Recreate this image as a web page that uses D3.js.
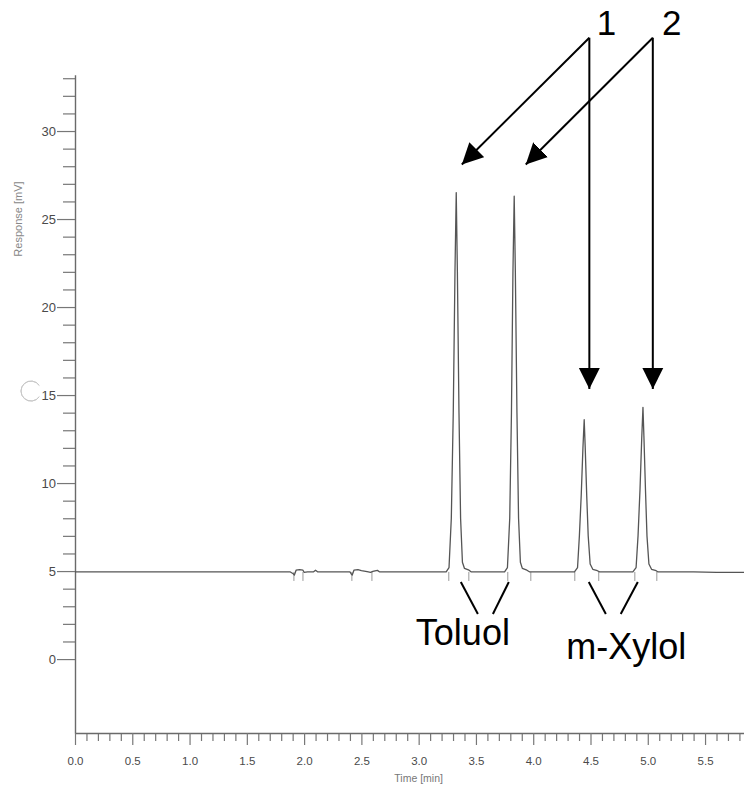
<!DOCTYPE html>
<html>
<head>
<meta charset="utf-8">
<script src="https://cdn.jsdelivr.net/npm/d3@7"></script>
<style>
  body { margin: 0; background: #fff; }
  svg { display: block; font-family: "Liberation Sans", Arial, sans-serif; }
</style>
</head>
<body>
<svg id="chart" width="744" height="785"></svg>
<script>
// tick labels
const xTickLabels = ["0.0", "0.5", "1.0", "1.5", "2.0", "2.5", "3.0", "3.5", "4.0", "4.5", "5.0", "5.5"];
const yTickLabels = ["0", "5", "10", "15", "20", "25", "30"];

// detector trace, [time (min), response (mV)]
const trace = [
  [0.00, 4.95], [1.00, 4.95], [1.88, 4.95], [1.905, 4.85], [1.915, 4.78], [1.93, 5.05], [1.96, 5.08],
  [1.99, 5.05], [2.00, 4.93], [2.03, 4.95], [2.08, 4.95], [2.10, 5.05], [2.12, 4.95],
  [2.40, 4.95], [2.41, 4.85], [2.42, 4.78], [2.435, 5.05], [2.47, 5.08], [2.50, 5.03], [2.55, 4.97],
  [2.58, 4.93], [2.60, 4.98], [2.64, 5.04], [2.66, 4.95],
  [3.24, 4.95], [3.265, 5.2], [3.285, 8], [3.302, 14], [3.317, 22], [3.328, 26.5], [3.338, 22],
  [3.352, 14], [3.366, 8], [3.382, 5.5], [3.40, 5.15], [3.44, 5.05], [3.46, 4.95],
  [3.75, 4.95], [3.775, 5.2], [3.795, 8], [3.81, 14], [3.823, 22], [3.834, 26.3], [3.844, 22],
  [3.858, 14], [3.872, 8], [3.888, 5.5], [3.905, 5.15], [3.945, 5.05], [3.97, 4.95],
  [4.36, 4.95], [4.387, 5.2], [4.403, 7], [4.419, 9.3], [4.434, 12], [4.445, 13.6], [4.454, 12],
  [4.467, 9.3], [4.48, 7], [4.497, 5.4], [4.52, 5.1], [4.56, 5.02], [4.58, 4.95],
  [4.87, 4.95], [4.898, 5.2], [4.915, 7], [4.932, 9.6], [4.947, 12.5], [4.958, 14.3], [4.967, 12.5],
  [4.98, 9.6], [4.993, 7], [5.01, 5.4], [5.033, 5.1], [5.073, 5.02], [5.09, 4.95],
  [5.40, 4.95], [5.60, 4.93], [5.84, 4.93]
];

// integration markers under the baseline (min)
const markerTimes = [1.911, 1.99, 2.417, 2.592, 3.263, 3.438, 3.778, 3.979, 4.363, 4.572, 4.887, 5.079];

// compound labels and their pointer lines
const peakNames = ["Toluol", "m-Xylol"];
const peakLabelPos = [[3.386, 0.8], [4.813, 0]];
const peakPointers = [
  [[3.368, 4.38], [3.517, 2.56]],
  [[3.787, 4.38], [3.648, 2.56]],
  [[4.485, 4.38], [4.634, 2.56]],
  [[4.913, 4.38], [4.764, 2.56]]
];

// run numbers with arrows
const runNames = ["1", "2"];
const runLabelPos = [[4.64, 35.45], [5.21, 35.45]];
const runArrows = [
  [[4.49, 35.3], [3.377, 28.1]],
  [[4.49, 35.3], [4.49, 15.35]],
  [[5.044, 35.3], [3.935, 28.1]],
  [[5.044, 35.3], [5.044, 15.35]]
];

const svg = d3.select("#chart");
const width = +svg.attr("width");

const x = d3.scaleLinear().domain([0, 5.84]).range([75, width]);
const y = d3.scaleLinear().domain([-4.2, 33.2]).range([733, 74.7]);

svg.append("rect").attr("width", width).attr("height", 785).attr("fill", "#fff");

// y axis: minor then major
const yMinor = d3.range(0, 34).filter((d) => d % 5 !== 0);
svg.append("g")
  .attr("transform", `translate(${x(0)},0)`)
  .call(d3.axisLeft(y).tickValues(yMinor).tickSize(12).tickFormat(""))
  .call((g) => g.select(".domain").remove());

const yAxis = svg.append("g")
  .attr("transform", `translate(${x(0)},0)`)
  .call(d3.axisLeft(y).tickValues(yTickLabels.map(Number)).tickSize(18).tickSizeOuter(0).tickPadding(1)
    .tickFormat((d, i) => yTickLabels[i]));
yAxis.selectAll("text").attr("font-size", 13).attr("fill", "#4a4a4a");

// x axis: minor then major
const xMinor = d3.range(0, 59).filter((d) => d % 5 !== 0).map((d) => d / 10);
svg.append("g")
  .attr("transform", `translate(0,${y(-4.2)})`)
  .call(d3.axisBottom(x).tickValues(xMinor).tickSize(8).tickFormat(""))
  .call((g) => g.select(".domain").remove());

const xAxis = svg.append("g")
  .attr("transform", `translate(0,${y(-4.2)})`)
  .call(d3.axisBottom(x).tickValues(xTickLabels.map(Number)).tickSize(12).tickSizeOuter(0).tickPadding(12)
    .tickFormat((d, i) => xTickLabels[i]));
xAxis.selectAll("text").attr("font-size", 11.5).attr("fill", "#4a4a4a");

svg.selectAll(".domain").attr("stroke", "#6a6a6a").attr("stroke-width", 1.4);
svg.selectAll(".tick line").attr("stroke", "#777").attr("stroke-width", 1.2);

svg.append("text")
  .attr("transform", `translate(22,${y(25)}) rotate(-90)`)
  .attr("text-anchor", "middle")
  .attr("font-size", 11)
  .attr("fill", "#888")
  .text("Response [mV]");

svg.append("text")
  .attr("x", x(3.0))
  .attr("y", 782)
  .attr("text-anchor", "middle")
  .attr("font-size", 10.5)
  .attr("fill", "#777")
  .text("Time [min]");

// faint punch-hole mark on the scan
svg.append("path")
  .attr("transform", `translate(31,${y(15) - 4})`)
  .attr("d", d3.arc()({ innerRadius: 10, outerRadius: 10, startAngle: Math.PI / 2 + 0.6, endAngle: Math.PI * 2.5 - 0.6 }))
  .attr("fill", "none")
  .attr("stroke", "#c8c8c8")
  .attr("stroke-width", 1);

// markers
svg.append("g")
  .selectAll("line")
  .data(markerTimes)
  .join("line")
  .attr("x1", (d) => x(d))
  .attr("x2", (d) => x(d))
  .attr("y1", y(4.95))
  .attr("y2", y(4.95) + 9)
  .attr("stroke", "#999")
  .attr("stroke-width", 1);

// trace
svg.append("path")
  .datum(trace)
  .attr("fill", "none")
  .attr("stroke", "#555")
  .attr("stroke-width", 1.3)
  .attr("stroke-linejoin", "round")
  .attr("d", d3.line().x((d) => x(d[0])).y((d) => y(d[1])));

// annotations
svg.append("defs").append("marker")
  .attr("id", "head")
  .attr("markerUnits", "userSpaceOnUse")
  .attr("viewBox", "0 0 22 22")
  .attr("markerWidth", 22)
  .attr("markerHeight", 22)
  .attr("refX", 21)
  .attr("refY", 11)
  .attr("orient", "auto")
  .append("path")
  .attr("d", "M0,0.5 L21,11 L0,21.5 Z")
  .attr("fill", "#000");

svg.append("g")
  .selectAll("line")
  .data(runArrows)
  .join("line")
  .attr("x1", (d) => x(d[0][0]))
  .attr("y1", (d) => y(d[0][1]))
  .attr("x2", (d) => x(d[1][0]))
  .attr("y2", (d) => y(d[1][1]))
  .attr("stroke", "#000")
  .attr("stroke-width", 2)
  .attr("marker-end", "url(#head)");

svg.append("g")
  .selectAll("text")
  .data(runNames)
  .join("text")
  .attr("x", (d, i) => x(runLabelPos[i][0]))
  .attr("y", (d, i) => y(runLabelPos[i][1]))
  .attr("text-anchor", "middle")
  .attr("font-size", 35)
  .attr("fill", "#000")
  .text((d) => d);

svg.append("g")
  .selectAll("line")
  .data(peakPointers)
  .join("line")
  .attr("x1", (d) => x(d[0][0]))
  .attr("y1", (d) => y(d[0][1]))
  .attr("x2", (d) => x(d[1][0]))
  .attr("y2", (d) => y(d[1][1]))
  .attr("stroke", "#000")
  .attr("stroke-width", 2);

svg.append("g")
  .selectAll("text")
  .data(peakNames)
  .join("text")
  .attr("x", (d, i) => x(peakLabelPos[i][0]))
  .attr("y", (d, i) => y(peakLabelPos[i][1]))
  .attr("text-anchor", "middle")
  .attr("font-size", 36)
  .attr("fill", "#000")
  .text((d) => d);
</script>
</body>
</html>
